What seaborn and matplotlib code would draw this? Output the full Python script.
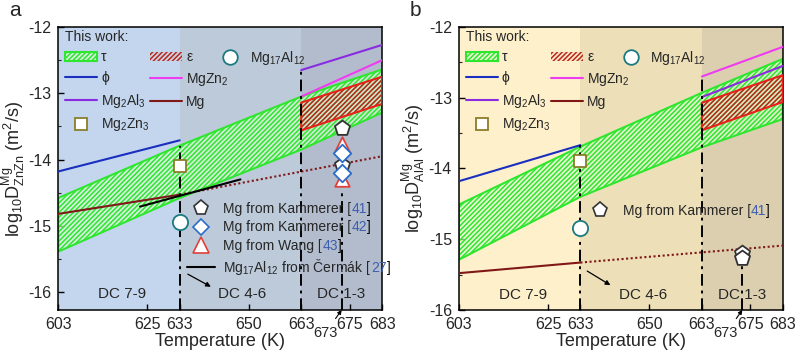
import numpy as np
import matplotlib
matplotlib.use('Agg')
import matplotlib.pyplot as plt
import seaborn as sns
from matplotlib.lines import Line2D

# ---- data (log10 D, m^2/s) ----
T_band = [603, 633, 663, 683]
T_hi = [663, 683]
T_lo = [603, 633]
T_mgdot = [633, 683]

# panel a : D^Mg_ZnZn
a_tau_up = [-14.58, -13.79, -13.05, -12.64]
a_tau_lo = [-15.39, -14.58, -13.85, -13.29]
a_eps_up = [-13.14, -12.75]
a_eps_lo = [-13.56, -13.16]
a_phi = [-14.18, -13.71]
a_mgzn2 = [-13.05, -12.50]
a_mg2al3 = [-12.65, -12.27]
a_mg = [-14.82, -14.53]
a_mg_dot = [-14.53, -13.95]
a_cermak_T = [623.2, 648.0]
a_cermak = [-14.71, -14.30]
a_mg2zn3 = (633, -14.10)
a_mg17al12 = (633, -14.94)
a_kam41 = [-13.52, -14.08]
a_kam42 = [-13.90, -14.20]
a_wang43 = [-13.77, -14.30]
a_guide_top = [-13.80, -12.65, -14.45]

# panel b : D^Mg_AlAl
b_tau_up = [-14.51, -13.69, -12.93, -12.45]
b_tau_lo = [-15.29, -14.40, -13.70, -13.30]
b_eps_up = [-13.07, -12.68]
b_eps_lo = [-13.46, -13.06]
b_phi = [-14.18, -13.67]
b_mgzn2 = [-12.70, -12.28]
b_mg2al3 = [-12.99, -12.55]
b_mg = [-15.48, -15.33]
b_mg_dot = [-15.33, -15.09]
b_mg2zn3 = (633, -13.90)
b_mg17al12 = (633, -14.84)
b_kam41 = [-15.20, -15.26]
b_guide_top = [-13.67, -12.70, -15.32]

guide_T = [633, 663, 673]
xticks = [603, 625, 633, 650, 663, 675, 683]
dc_labels = ['DC 7-9', 'DC 4-6', 'DC 1-3']
dc_T = [618.8, 648.4, 672.9]

sns.set_theme(style='ticks')
plt.rcParams['font.family'] = ['Liberation Sans', 'DejaVu Sans']
plt.rcParams['mathtext.fontset'] = 'custom'
plt.rcParams['mathtext.rm'] = 'Liberation Sans'
plt.rcParams['mathtext.it'] = 'Liberation Sans:italic'
plt.rcParams['mathtext.bf'] = 'Liberation Sans:bold'
plt.rcParams['hatch.linewidth'] = 1.1

C_GREEN = '#2ee62e'
C_RED_E = '#e8201a'
C_RED_H = '#b8281c'
C_BLUE = '#1a2fbf'
C_MAG = '#f03cf0'
C_PUR = '#8a2be2'
C_MG = '#801818'
C_REF = '#3d5fae'

fig, axes = plt.subplots(1, 2, figsize=(7.98, 3.51), dpi=100)
fig.subplots_adjust(left=0.073, right=0.981, top=0.923, bottom=0.117, wspace=0.237)

panels = [
    dict(ax=axes[0], tag='a', ylim=(-16.27, -12), bg=['#c3d6ee', '#bdcad9', '#b2bccd'],
         tau=(a_tau_up, a_tau_lo), eps=(a_eps_up, a_eps_lo), phi=a_phi, mgzn2=a_mgzn2,
         mg2al3=a_mg2al3, mg=a_mg, mgdot=a_mg_dot, sq=a_mg2zn3, circ=a_mg17al12,
         gtop=a_guide_top, sub='ZnZn', dcy=-16.03, arr=((634.4, -15.71), (641.3, -15.94))),
    dict(ax=axes[1], tag='b', ylim=(-16, -12), bg=['#fff0cc', '#eddfb8', '#dbcfb0'],
         tau=(b_tau_up, b_tau_lo), eps=(b_eps_up, b_eps_lo), phi=b_phi, mgzn2=b_mgzn2,
         mg2al3=b_mg2al3, mg=b_mg, mgdot=b_mg_dot, sq=b_mg2zn3, circ=b_mg17al12,
         gtop=b_guide_top, sub='AlAl', dcy=-15.79, arr=((634.1, -15.43), (641.0, -15.67))),
]

marker_kw = dict(facecolor='white', zorder=6, linewidth=1.3)

for p in panels:
    ax = p['ax']
    lo_y = p['ylim'][0]
    # temperature regions
    ax.axvspan(603, 633, color=p['bg'][0], lw=0, zorder=0)
    ax.axvspan(633, 663, color=p['bg'][1], lw=0, zorder=0)
    ax.axvspan(663, 683, color=p['bg'][2], lw=0, zorder=0)

    # tau and epsilon bands
    tau = ax.fill_between(T_band, p['tau'][1], p['tau'][0], facecolor=(0.88, 1.0, 0.84, 0.65),
                          edgecolor=C_GREEN, hatch='///////', linewidth=1.5, zorder=2)
    eps = ax.fill_between(T_hi, p['eps'][1], p['eps'][0], facecolor=(1.0, 0.8, 0.75, 0.15),
                          edgecolor=C_RED_H, hatch='///////', linewidth=0, zorder=3)
    ax.fill_between(T_hi, p['eps'][1], p['eps'][0], facecolor='none',
                    edgecolor=C_RED_E, linewidth=1.5, zorder=3)

    sns.lineplot(x=T_lo, y=p['phi'], ax=ax, color=C_BLUE, lw=1.5, zorder=4)
    sns.lineplot(x=T_hi, y=p['mgzn2'], ax=ax, color=C_MAG, lw=1.5, zorder=4)
    sns.lineplot(x=T_hi, y=p['mg2al3'], ax=ax, color=C_PUR, lw=1.5, zorder=4)
    sns.lineplot(x=T_lo, y=p['mg'], ax=ax, color=C_MG, lw=1.5, zorder=4)
    sns.lineplot(x=T_mgdot, y=p['mgdot'], ax=ax, color=C_MG, lw=1.5, ls=(0, (1, 1.2)), zorder=4)

    # dash-dot guides
    for gx, gt in zip(guide_T, p['gtop']):
        ax.plot([gx, gx], [lo_y, gt], color='black', lw=1.4, ls=(0, (6, 2.5, 1.5, 2.5)), zorder=5)

    sns.scatterplot(x=[p['sq'][0]], y=[p['sq'][1]], ax=ax, marker='s', s=85,
                    edgecolor='#8c7d2a', **marker_kw)
    sns.scatterplot(x=[p['circ'][0]], y=[p['circ'][1]], ax=ax, marker='o', s=120,
                    edgecolor='#1b7a80', **marker_kw)

    # legend of this work
    blank = Line2D([], [], ls='none', marker='')
    handles = [tau, Line2D([], [], color=C_BLUE, lw=1.5), Line2D([], [], color=C_PUR, lw=1.5),
               Line2D([], [], ls='none', marker='s', ms=9, mfc='white', mec='#8c7d2a', mew=1.3),
               eps, Line2D([], [], color=C_MAG, lw=1.5), Line2D([], [], color=C_MG, lw=1.5), blank]
    labels = ['τ', 'ϕ', 'Mg$_2$Al$_3$', 'Mg$_2$Zn$_3$', 'ε', 'MgZn$_2$', 'Mg', '']
    leg1 = ax.legend(handles, labels, ncol=2, loc='upper left', bbox_to_anchor=(-0.005, 1.02),
                     frameon=False, fontsize=10, title='This work:', title_fontsize=10,
                     alignment='left', handlelength=2.3, handletextpad=0.3,
                     columnspacing=0.05, labelspacing=0.48, borderaxespad=0.2)
    ax.add_artist(leg1)
    leg_c = ax.legend([Line2D([], [], ls='none', marker='o', ms=10.5, mfc='white',
                              mec='#1b7a80', mew=1.3)], ['Mg$_{17}$Al$_{12}$'],
                      loc='center left', bbox_to_anchor=(0.505, 0.89), frameon=False,
                      fontsize=10, handlelength=1.2, handletextpad=0.8,
                      borderaxespad=0, borderpad=0)
    ax.add_artist(leg_c)

    # DC labels and arrow
    for lab, tx in zip(dc_labels, dc_T):
        ax.text(tx, p['dcy'], lab, ha='center', va='center', fontsize=11, zorder=7)
    ax.annotate('', xy=p['arr'][1], xytext=p['arr'][0],
                arrowprops=dict(arrowstyle='-|>', color='black', lw=0.9, mutation_scale=7))
    ax.annotate('673', xy=(673, 0), xycoords=('data', 'axes fraction'),
                xytext=(668.9, -0.083), textcoords=('data', 'axes fraction'),
                ha='center', va='center', fontsize=10.5, annotation_clip=False,
                arrowprops=dict(arrowstyle='-|>', color='black', lw=0.8, mutation_scale=6,
                                shrinkA=4, shrinkB=0))

    ax.set_xlim(603, 683)
    ax.set_ylim(*p['ylim'])
    ax.set_xticks(xticks)
    ax.set_yticks([-16, -15, -14, -13, -12])
    ax.set_yticklabels(['-16', '-15', '-14', '-13', '-12'])
    ax.set_yticks(np.arange(-16, -11.9, 0.5), minor=True)
    ax.tick_params(axis='both', which='major', direction='in', length=4, width=1,
                   labelsize=11.5, color='black', pad=5)
    ax.tick_params(axis='y', which='minor', direction='in', length=2, width=0.8)
    for sp in ax.spines.values():
        sp.set_visible(True)
        sp.set_color('black')
        sp.set_linewidth(1.1)
    ax.set_xlabel('Temperature (K)', fontsize=13, labelpad=1)
    ax.set_ylabel('log$_{10}$D$_{\\mathrm{' + p['sub'] + '}}^{\\mathrm{Mg}}$ (m$^2$/s)',
                  fontsize=13, labelpad=1)
    fig.text(ax.get_position().x0 - 0.062, 0.955, p['tag'], fontsize=15)

# literature markers
axa, axb = axes
sns.scatterplot(x=[673] * len(a_wang43), y=a_wang43, ax=axa, marker='^', s=110,
                edgecolor='#e0403a', **marker_kw)
sns.scatterplot(x=[673] * len(a_kam41), y=a_kam41, ax=axa, marker='p', s=130,
                edgecolor='#333333', **marker_kw)
sns.scatterplot(x=[673] * len(a_kam42), y=a_kam42, ax=axa, marker='D', s=80,
                edgecolor='#2a6cc8', **marker_kw)
sns.lineplot(x=a_cermak_T, y=a_cermak, ax=axa, color='black', lw=1.5, zorder=4)
sns.scatterplot(x=[673] * len(b_kam41), y=b_kam41, ax=axb, marker='p', s=130,
                edgecolor='#333333', **marker_kw)

lit_a = [Line2D([], [], ls='none', marker='p', ms=11, mfc='white', mec='#333333', mew=1.2),
         Line2D([], [], ls='none', marker='D', ms=8.5, mfc='white', mec='#2a6cc8', mew=1.2),
         Line2D([], [], ls='none', marker='^', ms=11, mfc='white', mec='#e0403a', mew=1.2),
         Line2D([], [], color='black', lw=1.5)]
lit_a_lab = ['Mg from Kammerer [', 'Mg from Kammerer [', 'Mg from Wang [',
             'Mg$_{17}$Al$_{12}$ from Čermák [']
lit_a_ref = ['41', '42', '43', '27']
leg2 = axa.legend(lit_a, lit_a_lab, loc='upper left', bbox_to_anchor=(0.36, 0.425), frameon=False,
                  fontsize=10, handlelength=2.0, handletextpad=0.6, labelspacing=0.3)
leg3 = axb.legend(lit_a[:1], lit_a_lab[:1], loc='upper left', bbox_to_anchor=(0.355, 0.42),
                  frameon=False, fontsize=10, handlelength=2.0, handletextpad=0.6)

# coloured reference numbers after legend labels
fig.canvas.draw()
renderer = fig.canvas.get_renderer()
for lg, refs in ((leg2, lit_a_ref), (leg3, lit_a_ref[:1])):
    for txt, ref in zip(lg.get_texts(), refs):
        bb = txt.get_window_extent(renderer)
        y0 = bb.y0 + 2 if '$' in txt.get_text() else bb.y0
        t1 = fig.text(bb.x1, y0, ref, color=C_REF, fontsize=10, transform=None, va='bottom')
        bb1 = t1.get_window_extent(renderer)
        fig.text(bb1.x1, y0, ']', color='black', fontsize=10, transform=None, va='bottom')

fig.savefig('out.png', dpi=100)
